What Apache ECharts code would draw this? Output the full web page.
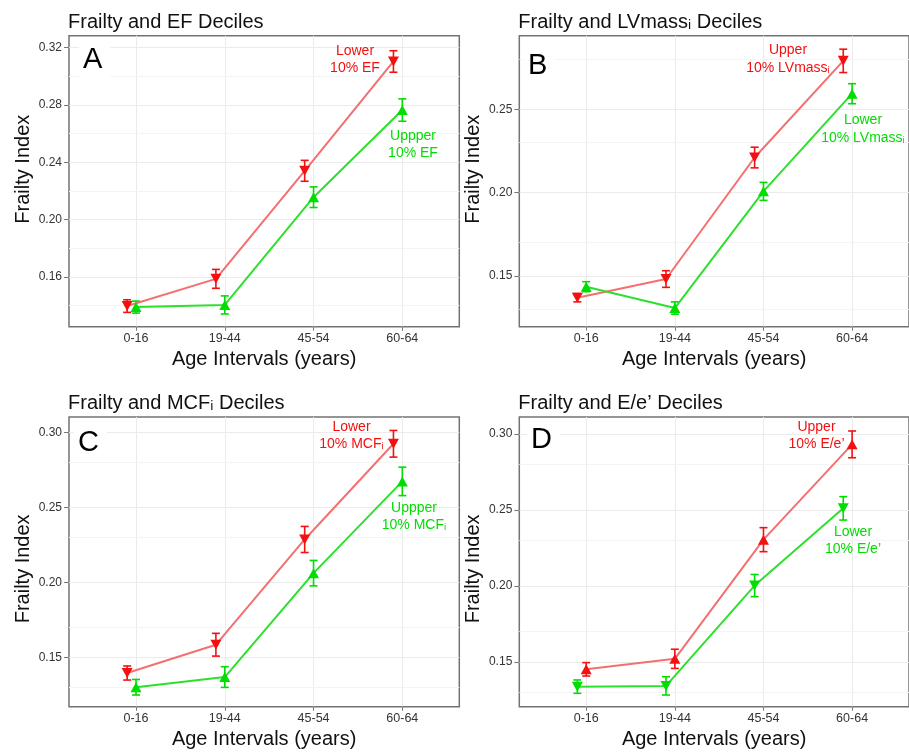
<!DOCTYPE html>
<html>
<head>
<meta charset="utf-8">
<title>Frailty and deciles</title>
<script src="https://cdn.jsdelivr.net/npm/echarts@6/dist/echarts.min.js"></script>
<style>
  html, body { margin: 0; padding: 0; background: #fff; }
  #chart { width: 909px; height: 756px; }
</style>
</head>
<body>
<div id="chart"></div>
<script>
// categories on the x axis
const categories = ['0-16', '19-44', '45-54', '60-64'];

// A: EF deciles
const efLowerMean = [0.1397, 0.1587, 0.2341, 0.3104];
const efLowerErr = [0.0044, 0.0066, 0.0073, 0.0075];
const efUpperMean = [0.1390, 0.1405, 0.2157, 0.2765];
const efUpperErr = [0.0042, 0.0063, 0.0072, 0.0078];

// B: LVmass_i deciles
const lvUpperMean = [0.1370, 0.1482, 0.2211, 0.2791];
const lvUpperErr = [0.0025, 0.0050, 0.0062, 0.0070];
const lvLowerMean = [0.1436, 0.1308, 0.2008, 0.2594];
const lvLowerErr = [0.0030, 0.0037, 0.0054, 0.0060];

// C: MCF_i deciles
const mcfLowerMean = [0.1395, 0.1584, 0.2287, 0.2926];
const mcfLowerErr = [0.0047, 0.0076, 0.0087, 0.0089];
const mcfUpperMean = [0.1300, 0.1368, 0.2062, 0.2675];
const mcfUpperErr = [0.0052, 0.0069, 0.0085, 0.0095];

// D: E/e' deciles
const eeUpperMean = [0.1452, 0.1521, 0.2305, 0.2932];
const eeUpperErr = [0.0044, 0.0063, 0.0079, 0.0088];
const eeLowerMean = [0.1338, 0.1343, 0.2003, 0.2511];
const eeLowerErr = [0.0044, 0.0060, 0.0073, 0.0077];

// tick labels
const yTicksA = [0.16, 0.20, 0.24, 0.28, 0.32];
const yMinorA = [0.14, 0.18, 0.22, 0.26, 0.30];
const yTicksB = [0.15, 0.20, 0.25];
const yTicksCD = [0.15, 0.20, 0.25, 0.30];
const yMinorBCD = [0.125, 0.175, 0.225, 0.275];

const FONT = "'Liberation Sans', Arial, sans-serif";
const RED = '#f41010', RED_LINE = '#f47070';
const GREEN = '#00dd00', GREEN_LINE = '#2ee02e';
const DODGE = -0.1;

const panels = [
  {
    title: 'Frailty and EF Deciles', letter: 'A', letterPos: [79, 60],
    grid: { left: 69, top: 35.7, width: 390.3, height: 291 },
    yMin: 0.1253, yMax: 0.3284, ticks: yTicksA, minor: yMinorA, nameShift: 12,
    series: [
      { mean: efLowerMean, err: efLowerErr, down: true, marker: RED, line: RED_LINE },
      { mean: efUpperMean, err: efUpperErr, down: false, marker: GREEN, line: GREEN_LINE }
    ],
    notes: [
      { text: 'Lower\n10% EF', x: 355, y: 59.5, color: RED },
      { text: 'Uppper\n10% EF', x: 413, y: 144.5, color: GREEN }
    ]
  },
  {
    title: 'Frailty and LVmassᵢ Deciles', letter: 'B', letterPos: [524, 66],
    grid: { left: 519.3, top: 35.7, width: 390.3, height: 291 },
    yMin: 0.1196, yMax: 0.2942, ticks: yTicksB, minor: yMinorBCD, nameShift: 12,
    series: [
      { mean: lvUpperMean, err: lvUpperErr, down: true, marker: RED, line: RED_LINE },
      { mean: lvLowerMean, err: lvLowerErr, down: false, marker: GREEN, line: GREEN_LINE }
    ],
    notes: [
      { text: 'Upper\n10% LVmassᵢ', x: 788, y: 59, color: RED },
      { text: 'Lower\n10% LVmassᵢ', x: 863, y: 129, color: GREEN }
    ]
  },
  {
    title: 'Frailty and MCFᵢ Deciles', letter: 'C', letterPos: [74, 443],
    grid: { left: 69, top: 417, width: 390.3, height: 289.7 },
    yMin: 0.117, yMax: 0.3105, ticks: yTicksCD, minor: yMinorBCD, nameShift: -7,
    series: [
      { mean: mcfLowerMean, err: mcfLowerErr, down: true, marker: RED, line: RED_LINE },
      { mean: mcfUpperMean, err: mcfUpperErr, down: false, marker: GREEN, line: GREEN_LINE }
    ],
    notes: [
      { text: 'Lower\n10% MCFᵢ', x: 351.5, y: 435.5, color: RED },
      { text: 'Uppper\n10% MCFᵢ', x: 414, y: 516.7, color: GREEN }
    ]
  },
  {
    title: 'Frailty and E/e’ Deciles', letter: 'D', letterPos: [527, 440],
    grid: { left: 519.3, top: 417, width: 390.3, height: 289.7 },
    yMin: 0.1206, yMax: 0.3112, ticks: yTicksCD, minor: yMinorBCD, nameShift: -7,
    series: [
      { mean: eeLowerMean, err: eeLowerErr, down: true, marker: GREEN, line: GREEN_LINE },
      { mean: eeUpperMean, err: eeUpperErr, down: false, marker: RED, line: RED_LINE }
    ],
    notes: [
      { text: 'Upper\n10% E/e’', x: 816.5, y: 435.5, color: RED },
      { text: 'Lower\n10% E/e’', x: 853, y: 540.5, color: GREEN }
    ]
  }
];

// vertical error bar with caps
function errorBar(color) {
  return function (params, api) {
    const x = api.value(0);
    const top = api.coord([x, api.value(2)]);
    const bot = api.coord([x, api.value(1)]);
    const hw = 4;
    const style = { stroke: color, lineWidth: 1.6 };
    return {
      type: 'group',
      children: [
        { type: 'line', shape: { x1: top[0], y1: top[1], x2: bot[0], y2: bot[1] }, style: style },
        { type: 'line', shape: { x1: top[0] - hw, y1: top[1], x2: top[0] + hw, y2: top[1] }, style: style },
        { type: 'line', shape: { x1: bot[0] - hw, y1: bot[1], x2: bot[0] + hw, y2: bot[1] }, style: style }
      ]
    };
  };
}

const grids = [], xAxes = [], yAxes = [], titles = [], series = [], graphics = [];

panels.forEach((p, idx) => {
  grids.push(Object.assign({
    show: true, borderColor: '#737373', borderWidth: 1.5, backgroundColor: 'transparent'
  }, p.grid));

  titles.push({
    text: p.title, left: p.grid.left - 1, top: p.grid.top - 23.5, padding: 0,
    textStyle: { fontSize: 20, fontWeight: 'normal', color: '#111', fontFamily: FONT }
  });

  xAxes.push({
    type: 'value', gridIndex: idx, min: -0.755, max: 3.642,
    name: 'Age Intervals (years)', nameLocation: 'middle', nameGap: 23,
    nameTextStyle: { fontSize: 20, color: '#111', fontFamily: FONT },
    axisLine: { show: false, onZero: false },
    axisTick: { show: true, length: 4, customValues: [0, 1, 2, 3], lineStyle: { color: '#777' } },
    axisLabel: {
      customValues: [0, 1, 2, 3], margin: 5, fontSize: 12.5, color: '#333', fontFamily: FONT,
      formatter: v => categories[Math.round(v)]
    },
    splitLine: { show: true, lineStyle: { color: '#ebebeb', width: 1 } }
  });

  const pad = p.nameShift > 0 ? [0, 0, 0, 2 * p.nameShift] : [0, -2 * p.nameShift, 0, 0];
  yAxes.push({
    type: 'value', gridIndex: idx, min: p.yMin, max: p.yMax,
    name: 'Frailty Index', nameLocation: 'middle', nameGap: 36, nameRotate: 90,
    nameTextStyle: { fontSize: 20, color: '#111', fontFamily: FONT, padding: pad },
    axisLine: { show: false, onZero: false },
    axisTick: { show: true, length: 5, customValues: p.ticks, lineStyle: { color: '#777' } },
    axisLabel: {
      customValues: p.ticks, margin: 7, fontSize: 12, color: '#333', fontFamily: FONT,
      formatter: v => v.toFixed(2)
    },
    splitLine: { show: true, lineStyle: { color: '#ebebeb', width: 1 } }
  });

  // minor horizontal grid lines
  series.push({
    type: 'line', xAxisIndex: idx, yAxisIndex: idx, data: [], z: 1, silent: true,
    markLine: {
      silent: true, z: 1, symbol: ['none', 'none'], label: { show: false },
      lineStyle: { color: '#f4f4f4', width: 1, type: 'solid' },
      emphasis: { disabled: true },
      data: p.minor.map(v => ({ yAxis: v }))
    }
  });

  p.series.forEach(s => {
    const dx = s.down ? DODGE : 0;
    series.push({
      type: 'custom', xAxisIndex: idx, yAxisIndex: idx, z: 3,
      encode: { x: 0, y: [1, 2] },
      renderItem: errorBar(s.marker),
      data: s.mean.map((m, i) => [i + dx, m - s.err[i], m + s.err[i]])
    });
    series.push({
      type: 'line', xAxisIndex: idx, yAxisIndex: idx, z: 4,
      data: s.mean.map((m, i) => [i + dx, m]),
      symbol: 'triangle', symbolSize: [11, 10], symbolRotate: s.down ? 180 : 0,
      showAllSymbol: true,
      lineStyle: { color: s.line, width: 2 },
      itemStyle: { color: s.marker }
    });
  });

  graphics.push({
    type: 'text', x: p.letterPos[0], y: p.letterPos[1], z: 5,
    style: {
      text: p.letter, fill: '#000', fontSize: 29, fontFamily: FONT, align: 'left', verticalAlign: 'middle',
      backgroundColor: '#fff', padding: [3, 8, 3, 4]
    }
  });
  p.notes.forEach(n => {
    graphics.push({
      type: 'text', x: n.x, y: n.y, z: 10,
      style: {
        text: n.text, fill: n.color, fontSize: 14, fontFamily: FONT, lineHeight: 17.5,
        align: 'center', verticalAlign: 'middle'
      }
    });
  });
});

const myChart = echarts.init(document.getElementById('chart'));
myChart.setOption({
  animation: false,
  textStyle: { fontFamily: FONT },
  title: titles,
  grid: grids,
  xAxis: xAxes,
  yAxis: yAxes,
  series: series,
  graphic: graphics
});
</script>
</body>
</html>
